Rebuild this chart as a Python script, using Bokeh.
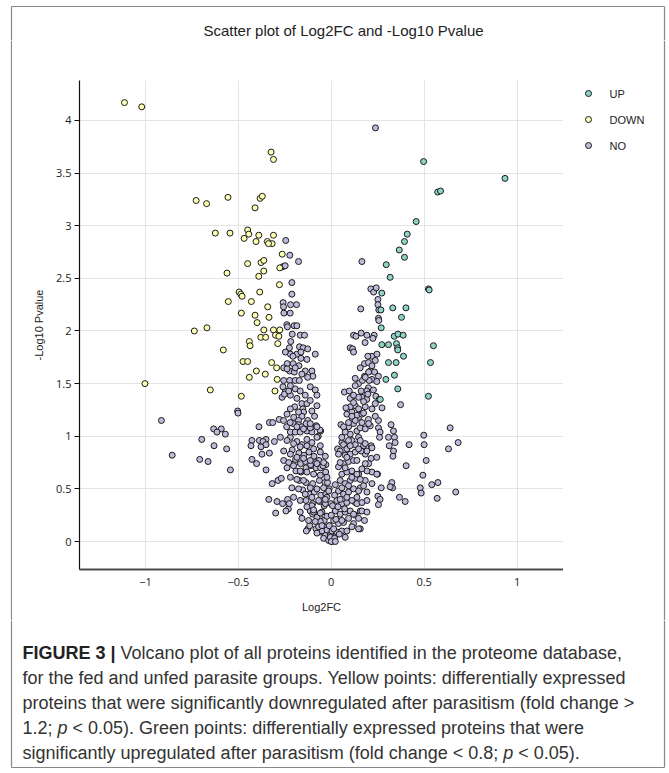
from bokeh.plotting import figure
from bokeh.layouts import column, row
from bokeh.models import Range1d, FixedTicker, Label
from bokeh.embed import file_html
from bokeh.resources import INLINE

# ---------------- data ----------------
categories = ["UP", "DOWN", "NO"]
colors = ["#8dd3c7", "#ffffb3", "#bebada"]

up_x = [0.497, 0.935, 0.573, 0.588, 0.457, 0.409, 0.394, 0.366, 0.394, 0.296,
        0.317, 0.523, 0.527, 0.272, 0.267, 0.331, 0.402, 0.378, 0.269, 0.339,
        0.359, 0.387, 0.272, 0.308, 0.351, 0.550, 0.357, 0.358, 0.389, 0.308,
        0.349, 0.340, 0.534, 0.523, 0.358, 0.294, 0.264]
up_y = [3.61, 3.45, 3.32, 3.33, 3.04, 2.92, 2.85, 2.77, 2.70, 2.63,
        2.51, 2.40, 2.39, 2.36, 2.20, 2.22, 2.22, 2.13, 2.03, 1.95,
        1.97, 1.96, 1.87, 1.87, 1.88, 1.86, 1.84, 1.82, 1.76, 1.70,
        1.70, 1.58, 1.70, 1.38, 1.45, 1.54, 1.35]

down_x = [-1.113, -1.020, -0.324, -0.311, -0.727, -0.671, -0.556, -0.383, -0.371, -0.410,
          -0.624, -0.545, -0.450, -0.444, -0.469, -0.390, -0.405, -0.344, -0.318, -0.311,
          -0.338, -0.450, -0.378, -0.363, -0.363, -0.390, -0.561, -0.264, -0.277, -0.279,
          -0.496, -0.487, -0.480, -0.385, -0.554, -0.430, -0.484, -0.410, -0.342, -0.335,
          -0.399, -0.737, -0.669, -0.363, -0.379, -0.353, -0.311, -0.300, -0.277, -0.282,
          -0.288, -0.441, -0.437, -0.581, -1.003, -0.651, -0.484, -0.475, -0.450, -0.441,
          -0.403, -0.355, -0.321, -0.294, -0.291, -0.303]
down_y = [4.17, 4.13, 3.70, 3.63, 3.24, 3.21, 3.27, 3.26, 3.28, 3.17,
          2.93, 2.93, 2.96, 2.92, 2.88, 2.91, 2.85, 2.85, 2.83, 2.91,
          2.83, 2.64, 2.65, 2.67, 2.57, 2.52, 2.55, 2.73, 2.60, 2.44,
          2.37, 2.35, 2.33, 2.37, 2.28, 2.28, 2.17, 2.15, 2.23, 2.13,
          2.08, 2.00, 2.03, 2.01, 1.94, 1.94, 2.01, 1.96, 2.01, 1.95,
          1.88, 1.90, 1.86, 1.82, 1.50, 1.44, 1.38, 1.71, 1.71, 1.56,
          1.62, 1.59, 1.70, 1.65, 1.54, 1.43]

# "NO" points, read in several regions
no_upper_left_x = [-0.245, -0.223, -0.262, -0.248, -0.176, -0.212, -0.212, -0.259, -0.257, -0.219,
                   -0.187, -0.255, -0.221, -0.239, -0.236, -0.200, -0.185, -0.210, -0.167, -0.144,
                   -0.218, -0.225, -0.171, -0.151, -0.220, -0.185, -0.163, -0.131, -0.086, -0.237,
                   -0.205, -0.174, -0.256, -0.224, -0.199, -0.140, -0.104, -0.099, -0.256, -0.224,
                   -0.194, -0.172, -0.265, -0.220, -0.247, -0.252, -0.229, -0.194, -0.086, -0.077,
                   -0.197, -0.158, -0.131, -0.153, -0.149, -0.090, -0.158, -0.238, -0.202, -0.176]
no_upper_left_y = [2.86, 2.72, 2.61, 2.62, 2.66, 2.46, 2.35, 2.27, 2.23, 2.25,
                   2.25, 2.17, 2.17, 2.06, 2.04, 2.05, 2.05, 1.97, 1.96, 1.96,
                   1.90, 1.84, 1.85, 1.84, 1.78, 1.78, 1.74, 1.73, 1.78, 1.69,
                   1.69, 1.67, 1.65, 1.62, 1.61, 1.62, 1.62, 1.57, 1.53, 1.53,
                   1.53, 1.53, 1.37, 1.39, 1.43, 1.40, 1.43, 1.45, 1.44, 1.39,
                   1.28, 1.31, 1.31, 1.26, 1.23, 1.19, 1.19, 1.21, 1.18, 1.15]

no_mid_left_x = [-0.504, -0.502, -0.333, -0.315, -0.280, -0.389, -0.240, -0.204, -0.176, -0.158,
                 -0.127, -0.081, -0.057, -0.633, -0.592, -0.615, -0.570, -0.697, -0.631, -0.563,
                 -0.427, -0.387, -0.351, -0.306, -0.432, -0.378, -0.373, -0.333, -0.367, -0.351,
                 -0.427, -0.402, -0.708, -0.663, -0.543, -0.856, -0.914, -0.351, -0.256, -0.229,
                 -0.194, -0.318, -0.287, -0.269, -0.336, -0.292, -0.262, -0.235, -0.231, -0.244,
                 -0.226, -0.299, -0.167, -0.113, -0.126, -0.061, -0.070, -0.043, -0.034, -0.134,
                 -0.116]
no_mid_left_y = [1.24, 1.22, 1.13, 1.13, 1.16, 1.09, 1.09, 1.12, 1.11, 1.09,
                 1.15, 1.10, 1.05, 1.07, 1.07, 1.04, 1.02, 0.97, 0.91, 0.88,
                 0.96, 0.96, 0.97, 0.95, 0.91, 0.90, 0.83, 0.84, 0.95, 0.92,
                 0.78, 0.74, 0.78, 0.76, 0.68, 0.82, 1.15, 0.68, 0.77, 0.75,
                 0.75, 0.55, 0.58, 0.60, 0.40, 0.38, 0.36, 0.40, 0.31, 0.29,
                 0.36, 0.27, 0.28, 0.29, 0.12, 1.06, 1.00, 0.73, 0.56, 0.10,
                 0.15]

no_core_left_x = [-0.190, -0.163, -0.136, -0.109, -0.082, -0.056, -0.029, -0.172, -0.136, -0.100,
                  -0.064, -0.020, -0.154, -0.118, -0.091, -0.056, -0.029, -0.011, -0.136, -0.100,
                  -0.064, -0.038, -0.002, -0.100, -0.064, -0.038, -0.011, 0.007, -0.002, 0.016,
                  -0.025, -0.082, -0.056, -0.038, -0.020, -0.064, -0.220, -0.185, -0.158, -0.131,
                  -0.104, -0.077, -0.059, -0.210, -0.174, -0.147, -0.120, -0.093, -0.066, -0.192,
                  -0.165, -0.138, -0.111, -0.084, -0.057, -0.030, -0.220, -0.194, -0.167, -0.131,
                  -0.104, -0.135, -0.113, -0.005, -0.032, -0.050, -0.068, -0.059, -0.077, -0.095,
                  -0.104, -0.050, -0.032, -0.023, -0.014, -0.045]
no_core_left_y = [0.67, 0.66, 0.70, 0.72, 0.70, 0.72, 0.73, 0.58, 0.56, 0.55,
                  0.58, 0.56, 0.49, 0.45, 0.47, 0.44, 0.45, 0.50, 0.39, 0.36,
                  0.38, 0.34, 0.36, 0.26, 0.23, 0.20, 0.15, 0.10, 0.06, 0.01,
                  0.07, 0.12, 0.09, 0.14, 0.06, 0.16, 0.99, 0.95, 0.92, 0.97,
                  0.94, 0.99, 0.91, 0.87, 0.84, 0.82, 0.85, 0.81, 0.77, 0.78,
                  0.74, 0.76, 0.73, 0.75, 0.70, 0.66, 1.04, 1.04, 1.04, 1.05,
                  1.04, 1.12, 1.08, 0.01, 0.06, 0.10, 0.14, 0.19, 0.23, 0.28,
                  0.34, 0.28, 0.36, 0.42, 0.48, 0.72]

no_fill_left_x = [-0.257, -0.221, -0.185, -0.149, -0.113, -0.077, -0.274, -0.238, -0.203, -0.167,
                  -0.131, -0.095, -0.059, -0.032, -0.256, -0.220, -0.185, -0.149, -0.113, -0.077,
                  -0.041, -0.238, -0.203, -0.167, -0.131, -0.095, -0.059, -0.023, -0.220, -0.185,
                  -0.149, -0.113, -0.077, -0.041, -0.212, -0.176, -0.140, -0.104, -0.068, -0.032,
                  -0.203, -0.167, -0.131, -0.095, -0.059, -0.023, -0.158, -0.122, -0.086, -0.050,
                  -0.023, -0.005, -0.077, -0.041, -0.014, 0.004, -0.247, -0.206, -0.163, -0.127,
                  -0.238, -0.194, -0.158, -0.127, -0.260, -0.220, -0.167, -0.140, -0.113, -0.185,
                  -0.113, -0.077, -0.220, -0.176, -0.104]
no_fill_left_y = [1.15, 1.13, 1.09, 1.07, 1.12, 1.09, 0.99, 0.96, 0.93, 0.90,
                  0.91, 0.88, 0.85, 0.81, 0.86, 0.83, 0.80, 0.79, 0.77, 0.74,
                  0.75, 0.70, 0.72, 0.67, 0.66, 0.64, 0.63, 0.61, 0.61, 0.59,
                  0.58, 0.51, 0.50, 0.51, 0.51, 0.50, 0.45, 0.42, 0.39, 0.40,
                  0.42, 0.39, 0.33, 0.30, 0.27, 0.24, 0.22, 0.20, 0.19, 0.15,
                  0.11, 0.06, 0.08, 0.03, 0.01, 0.00, 1.80, 1.76, 1.80, 1.83,
                  1.64, 1.65, 1.59, 1.56, 1.47, 1.48, 1.43, 1.39, 1.47, 1.36,
                  1.34, 1.29, 1.26, 1.23, 1.24]

no_right_x = [0.238, 0.165, 0.213, 0.228, 0.242, 0.251, 0.251, 0.256, 0.159, 0.254,
              0.256, 0.120, 0.133, 0.161, 0.192, 0.231, 0.224, 0.182, 0.102, 0.115,
              0.120, 0.219, 0.246, 0.156, 0.179, 0.200, 0.129, 0.210, 0.233, 0.254,
              0.219, 0.245, 0.200, 0.191, 0.227, 0.071, 0.097, 0.115, 0.102, 0.165,
              0.191, 0.240, 0.258, 0.129, 0.147, 0.183, 0.237, 0.273, 0.373, 0.052,
              0.111, 0.147, 0.200, 0.254, 0.322, 0.335, 0.340, 0.254, 0.263, 0.260,
              0.308, 0.312, 0.344, 0.034, 0.057, 0.102, 0.111, 0.147, 0.174, 0.183,
              0.215, 0.335, 0.332, 0.419, 0.498, 0.500, 0.640, 0.631, 0.683, 0.403,
              0.511, 0.493, 0.541, 0.574, 0.479, 0.484, 0.570, 0.670, 0.326, 0.330,
              0.269, 0.251, 0.263, 0.254, 0.367, 0.398, 0.249, 0.317, 0.156, 0.156,
              0.129]
no_right_y = [3.93, 2.66, 2.40, 2.37, 2.41, 2.30, 2.25, 2.20, 2.21, 2.12,
              2.10, 1.96, 1.95, 1.98, 1.96, 1.96, 1.93, 1.89, 1.84, 1.83,
              1.80, 1.76, 1.78, 1.65, 1.69, 1.70, 1.55, 1.62, 1.61, 1.57,
              1.54, 1.52, 1.46, 1.43, 1.44, 1.42, 1.43, 1.38, 1.36, 1.37,
              1.35, 1.38, 1.35, 1.29, 1.26, 1.28, 1.31, 1.27, 1.30, 1.11,
              1.15, 1.18, 1.16, 1.15, 1.11, 1.05, 0.99, 1.08, 1.04, 0.99,
              0.99, 0.91, 0.94, 0.88, 0.94, 1.02, 0.96, 0.99, 0.91, 0.93,
              0.91, 0.86, 0.81, 0.92, 1.01, 0.92, 1.08, 0.88, 0.94, 0.72,
              0.77, 0.63, 0.54, 0.56, 0.51, 0.46, 0.41, 0.47, 0.56, 0.51,
              0.51, 0.43, 0.40, 0.35, 0.42, 0.38, 0.64, 0.52, 0.12, 0.29,
              0.37]

no_core_right_x = [0.215, 0.245, 0.201, 0.219, 0.245, 0.192, 0.147, 0.183, 0.219, 0.192,
                   0.156, 0.138, 0.192, 0.165, 0.192, 0.179, 0.147, 0.120, 0.129, 0.039,
                   0.066, 0.093, 0.120, 0.075, 0.102, 0.129, 0.057, 0.084, 0.111, 0.048,
                   0.075, 0.102, 0.129, 0.039, 0.066, 0.093, 0.120, 0.030, 0.057, 0.084,
                   0.111, 0.022, 0.048, 0.075, 0.102, 0.013, 0.039, 0.066, 0.093, 0.004,
                   0.030, 0.057, -0.005, 0.018, 0.000, 0.075, 0.093, 0.120, 0.138, 0.084,
                   0.111, 0.138, 0.165, 0.156, 0.183, 0.210, 0.066, 0.093, 0.129, 0.156,
                   0.048, 0.084, 0.183, 0.161, 0.147, 0.174, 0.197, 0.147, 0.168, 0.204,
                   0.179, 0.201, 0.102, 0.120]
no_core_right_y = [0.79, 0.80, 0.74, 0.66, 0.64, 0.67, 0.64, 0.58, 0.55, 0.47,
                   0.51, 0.42, 0.39, 0.29, 0.28, 0.20, 0.12, 0.17, 0.25, 0.71,
                   0.74, 0.76, 0.77, 0.82, 0.83, 0.85, 0.64, 0.66, 0.67, 0.58,
                   0.55, 0.58, 0.60, 0.48, 0.45, 0.47, 0.50, 0.39, 0.36, 0.37,
                   0.39, 0.29, 0.26, 0.28, 0.29, 0.20, 0.17, 0.18, 0.22, 0.10,
                   0.09, 0.10, 0.04, 0.03, 0.00, 1.04, 1.09, 1.12, 1.05, 1.21,
                   1.23, 1.20, 1.21, 1.08, 1.07, 1.10, 0.92, 0.96, 0.92, 0.96,
                   0.86, 0.88, 0.83, 0.86, 1.37, 1.33, 1.40, 1.50, 1.53, 1.53,
                   1.57, 1.61, 1.28, 1.32]

no_fill_right_x = [0.048, 0.075, 0.111, 0.138, 0.165, 0.156, 0.022, 0.057, 0.093, 0.147,
                   0.174, 0.018, 0.048, 0.084, 0.138, 0.165, 0.007, 0.036, 0.072, 0.120,
                   0.147, 0.000, 0.025, 0.057, 0.111, 0.084, -0.011, 0.013, 0.043, 0.075,
                   0.022, 0.066, 0.093, 0.129, 0.165, 0.201, 0.057, 0.102, 0.147, 0.192,
                   0.219, 0.039, 0.084, 0.138, 0.183, 0.120, 0.161, 0.129, 0.183, 0.219,
                   0.197, 0.237, 0.079, 0.111, 0.174, 0.219, 0.237]
no_fill_right_y = [0.75, 0.70, 0.61, 0.64, 0.69, 0.59, 0.54, 0.51, 0.53, 0.48,
                   0.53, 0.44, 0.40, 0.42, 0.36, 0.37, 0.34, 0.33, 0.31, 0.26,
                   0.22, 0.25, 0.21, 0.20, 0.14, 0.10, 0.15, 0.12, 0.07, 0.04,
                   0.00, 1.09, 1.13, 1.15, 1.13, 1.12, 0.99, 0.91, 0.88, 0.86,
                   0.89, 0.83, 0.80, 0.77, 0.74, 1.39, 1.43, 1.48, 1.56, 1.67,
                   1.76, 1.72, 1.27, 1.19, 1.22, 1.26, 1.19]

x_ticks = [-1, -0.5, 0, 0.5, 1]
x_tick_labels = ["\u22121", "\u22120.5", "0", "0.5", "1"]
y_ticks = [0, 0.5, 1, 1.5, 2, 2.5, 3, 3.5, 4]
y_tick_labels = ["0", "0.5", "1", "1.5", "2", "2.5", "3", "3.5", "4"]

title_text = "Scatter plot of Log2FC and -Log10 Pvalue"
x_title = "Log2FC"
y_title = "-Log10 Pvalue"

# ---------------- layout (page pixels) ----------------
PAGE_W = 669
TOP_H = 40                 # strip holding title and top border
SIDE_W = 12                # left/right border strips
FRAME_L, FRAME_R, FRAME_T, FRAME_B = 79, 563, 80, 569
MAIN_W = FRAME_R - SIDE_W
LEG_W = PAGE_W - 2 * SIDE_W - MAIN_W
MAIN_BOTTOM = 620          # page y where caption area begins
MAIN_H = MAIN_BOTTOM - TOP_H
CAP_H = 773 - MAIN_BOTTOM
BORDER_L, BORDER_R, BORDER_T, BORDER_B = 11, 664, 6, 767
X0, X1 = -1.355, 1.25
Y0, Y1 = -0.266, 4.38
BORDER_COLOR = "#888888"
LEG_MARK_X, LEG_TEXT_X = 588, 609
LEG_Y = [93, 119, 145]


def no_align(f):
    if "frame_align" in f.properties():
        f.frame_align = False
    return f


def blank(w, h):
    f = figure(width=w, height=h, x_range=Range1d(0, w), y_range=Range1d(h, 0),
               output_backend="svg", toolbar_location=None, min_border=0,
               x_axis_type=None, y_axis_type=None, title=None)
    f.outline_line_color = None
    f.background_fill_color = "white"
    f.border_fill_color = "white"
    return no_align(f)


# top strip: border + title
top = blank(PAGE_W, TOP_H)
top.segment(x0=[BORDER_L, BORDER_L, BORDER_R], y0=[BORDER_T, BORDER_T, BORDER_T],
            x1=[BORDER_R, BORDER_L, BORDER_R], y1=[BORDER_T, TOP_H, TOP_H],
            line_color=BORDER_COLOR, line_width=1.2)
top.add_layout(Label(x=343, y=30, text=title_text, text_align="center", text_baseline="middle",
                     text_font="Liberation Sans", text_font_size="15px", text_color="#222222"))

# side strips
left = blank(SIDE_W, MAIN_H)
left.segment(x0=[BORDER_L], y0=[0], x1=[BORDER_L], y1=[MAIN_H], line_color=BORDER_COLOR, line_width=1.2)
rx = BORDER_R - (SIDE_W + MAIN_W + LEG_W)
right = blank(SIDE_W, MAIN_H)
right.segment(x0=[rx], y0=[0], x1=[rx], y1=[MAIN_H], line_color=BORDER_COLOR, line_width=1.2)

# main plot
p = figure(width=MAIN_W, height=MAIN_H, x_range=Range1d(X0, X1), y_range=Range1d(Y0, Y1),
           output_backend="svg", toolbar_location=None, title=None,
           min_border_left=FRAME_L - SIDE_W, min_border_right=0,
           min_border_top=FRAME_T - TOP_H, min_border_bottom=MAIN_BOTTOM - FRAME_B)
no_align(p)
p.outline_line_color = None
p.background_fill_color = "white"
p.border_fill_color = "white"

p.xgrid.ticker = FixedTicker(ticks=x_ticks)
p.ygrid.ticker = FixedTicker(ticks=y_ticks)
for g in (p.xgrid, p.ygrid):
    g.grid_line_color = "#e4e4e4"
    g.grid_line_width = 1

xa, ya = p.xaxis[0], p.yaxis[0]
xa.ticker = FixedTicker(ticks=x_ticks)
ya.ticker = FixedTicker(ticks=y_ticks)
xa.major_label_overrides = {t: s for t, s in zip(x_ticks, x_tick_labels)}
ya.major_label_overrides = {t: s for t, s in zip(y_ticks, y_tick_labels)}
xa.axis_label = x_title
ya.axis_label = y_title
for a in (xa, ya):
    a.minor_tick_line_color = None
    a.major_label_text_font = "Open Sans"
    a.major_label_text_font_size = "11px"
    a.major_label_text_color = "#222222"
    a.axis_label_text_font = "Liberation Sans"
    a.axis_label_text_font_style = "normal"
    a.axis_label_text_font_size = "11px"
    a.axis_label_text_color = "#222222"
xa.axis_line_color = "#4a4a4a"
xa.axis_line_width = 2
xa.major_tick_line_color = None
xa.major_tick_out = 0
xa.major_tick_in = 0
xa.major_label_standoff = 8
xa.axis_label_standoff = 12
ya.axis_line_color = "#111111"
ya.axis_line_width = 1.2
ya.major_tick_line_color = "#111111"
ya.major_tick_out = 5
ya.major_tick_in = 0
ya.major_label_standoff = 3
ya.axis_label_standoff = 8

MARK = dict(size=6, line_color="#1a1a1a", line_width=1)
no_x = no_upper_left_x + no_mid_left_x + no_core_left_x + no_fill_left_x + no_right_x + no_core_right_x + no_fill_right_x
no_y = no_upper_left_y + no_mid_left_y + no_core_left_y + no_fill_left_y + no_right_y + no_core_right_y + no_fill_right_y
p.scatter(no_x, no_y, fill_color=colors[2], **MARK)
p.scatter(down_x, down_y, fill_color=colors[1], **MARK)
p.scatter(up_x, up_y, fill_color=colors[0], **MARK)

# legend panel (its own small canvas to the right of the plot frame)
leg = blank(LEG_W, MAIN_H)
leg.scatter(x=[LEG_MARK_X - FRAME_R] * 3, y=[v - TOP_H for v in LEG_Y], fill_color=colors, **MARK)
for cat, yy in zip(categories, LEG_Y):
    leg.add_layout(Label(x=LEG_TEXT_X - FRAME_R, y=yy - TOP_H, text=cat, text_align="left",
                         text_baseline="middle", text_font="Liberation Sans",
                         text_font_size="11px", text_color="#222222"))

# ---------------- caption ----------------
cap_fig = blank(PAGE_W, CAP_H)
cb = BORDER_B - MAIN_BOTTOM
cap_fig.segment(x0=[BORDER_L, BORDER_R, BORDER_L], y0=[0, 0, cb],
                x1=[BORDER_L, BORDER_R, BORDER_R], y1=[cb, cb, cb],
                line_color=BORDER_COLOR, line_width=1.2)

AW = {' ': 278, '.': 278, ',': 278, ';': 278, ':': 278, '(': 333, ')': 333, '<': 584,
      '>': 584, '-': 333, '|': 260, 'a': 556, 'b': 556, 'c': 500, 'd': 556, 'e': 556,
      'f': 278, 'g': 556, 'h': 556, 'i': 222, 'j': 222, 'k': 500, 'l': 222, 'm': 833,
      'n': 556, 'o': 556, 'p': 556, 'q': 556, 'r': 333, 's': 500, 't': 278, 'u': 556,
      'v': 500, 'w': 722, 'x': 500, 'y': 500, 'z': 500}
BW = {'F': 611, 'I': 278, 'G': 778, 'U': 722, 'R': 722, 'E': 667, ' ': 278, '3': 556, '|': 280}


def tw(s, size, table=AW):
    return sum(table.get(c, 556) for c in s) * size / 1000.0


CAP_SIZE = 18
CAP_X = 22
CAP_Y = [y - MAIN_BOTTOM for y in (652, 677, 702, 727, 752)]


def cap(x, y, text, style="normal", color="#333333"):
    cap_fig.add_layout(Label(x=x, y=y, text=text, text_align="left", text_baseline="middle",
                             text_font="Liberation Sans", text_font_size=f"{CAP_SIZE}px",
                             text_font_style=style, text_color=color))


bold = "FIGURE 3 |"
cap(CAP_X, CAP_Y[0], bold, "bold", "#222222")
cap(CAP_X + tw(bold, CAP_SIZE, BW) + tw(" ", CAP_SIZE), CAP_Y[0],
    "Volcano plot of all proteins identified in the proteome database,")
cap(CAP_X, CAP_Y[1], "for the fed and unfed parasite groups. Yellow points: differentially expressed")
cap(CAP_X, CAP_Y[2], "proteins that were significantly downregulated after parasitism (fold change >")
s4a = "1.2; "
cap(CAP_X, CAP_Y[3], s4a)
xp = CAP_X + tw(s4a, CAP_SIZE)
cap(xp, CAP_Y[3], "p", "italic")
cap(xp + tw("p ", CAP_SIZE), CAP_Y[3], "< 0.05). Green points: differentially expressed proteins that were")
s5a = "significantly upregulated after parasitism (fold change < 0.8; "
cap(CAP_X, CAP_Y[4], s5a)
xp = CAP_X + tw(s5a, CAP_SIZE)
cap(xp, CAP_Y[4], "p", "italic")
cap(xp + tw("p ", CAP_SIZE), CAP_Y[4], "< 0.05).")

layout = column(top, row(left, p, leg, right), cap_fig)

open("out.html", "w").write(file_html(layout, INLINE))
